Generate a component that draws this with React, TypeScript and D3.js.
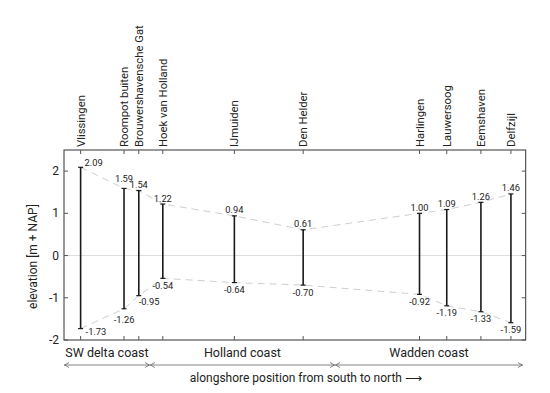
import * as React from 'react';
import * as d3 from 'd3';

// stations, south to north
const stations = ['Vlissingen', 'Roompot buiten', 'Brouwershavensche Gat', 'Hoek van Holland', 'IJmuiden',
	'Den Helder', 'Harlingen', 'Lauwersoog', 'Eemshaven', 'Delfzijl'];
// alongshore position (relative, 0-100)
const position = [3.6, 13.0, 16.2, 21.4, 36.9, 51.8, 77.0, 82.9, 90.3, 96.8];
const highWater = [2.09, 1.59, 1.54, 1.22, 0.94, 0.61, 1.00, 1.09, 1.26, 1.46];
const lowWater = [-1.73, -1.26, -0.95, -0.54, -0.64, -0.70, -0.92, -1.19, -1.33, -1.59];

const coastNames = ['SW delta coast', 'Holland coast', 'Wadden coast'];
const coastStart = [0, 18.6, 58.7];
const coastEnd = [18.6, 58.7, 99.4];

const yTicks = [-2, -1, 0, 1, 2];

const W = 550, H = 393;
const margin = {top: 150, right: 24.3, bottom: 53, left: 64};
const FONT = 'Roboto, "Noto Sans", sans-serif';

const draw = (svgEl: SVGSVGElement) => {
	const svg = d3.select(svgEl);
	svg.html('');

	const x = d3.scaleLinear().domain([0, 100]).range([margin.left, W - margin.right]);
	const y = d3.scaleLinear().domain([-2, 2.5]).range([H - margin.bottom, margin.top]);
	const x0 = x.range()[0], x1 = x.range()[1];
	const y0 = y.range()[0], y1 = y.range()[1];

	const data = stations.map((name, i) => ({name, pos: position[i], hi: highWater[i], lo: lowWater[i]}));

	// zero line
	svg.append('line')
		.attr('x1', x0).attr('x2', x1)
		.attr('y1', y(0)).attr('y2', y(0))
		.attr('stroke', '#dcdcdc').attr('stroke-width', 1);

	// envelopes
	const env = (key: 'hi' | 'lo') => d3.line<any>()
		.x(d => x(d.pos))
		.y(d => y(d[key]));
	['hi', 'lo'].forEach((k: any) => {
		svg.append('path')
			.attr('d', env(k)(data))
			.attr('fill', 'none')
			.attr('stroke', '#cfcfcf')
			.attr('stroke-width', 1)
			.attr('stroke-dasharray', '7,5');
	});

	// bars
	const bar = svg.append('g').selectAll('g').data(data).enter().append('g');
	bar.append('line')
		.attr('x1', d => x(d.pos)).attr('x2', d => x(d.pos))
		.attr('y1', d => y(d.hi)).attr('y2', d => y(d.lo))
		.attr('stroke', '#1a1a1a').attr('stroke-width', 1.6);
	['hi', 'lo'].forEach((k: any) => {
		bar.append('line')
			.attr('x1', d => x(d.pos) - 2.5).attr('x2', d => x(d.pos) + 2.5)
			.attr('y1', d => y(d[k])).attr('y2', d => y(d[k]))
			.attr('stroke', '#1a1a1a').attr('stroke-width', 1.2);
	});

	// value labels
	bar.append('text')
		.attr('x', (d, i) => x(d.pos) + (i === 0 ? 4 : 0))
		.attr('y', (d, i) => y(d.hi) - (i === 0 ? 1.5 : i === 1 ? 6 : 2.5))
		.attr('text-anchor', (d, i) => i === 0 ? 'start' : 'middle')
		.attr('font-size', 9.3).attr('font-family', FONT).attr('fill', '#222')
		.text(d => d.hi.toFixed(2));
	bar.append('text')
		.attr('x', (d, i) => x(d.pos) + (i === 0 ? 5 : 0))
		.attr('y', (d, i) => y(d.lo) + (i === 0 ? 6.5 : i === 1 ? 14 : i === 2 ? 9.5 : 10.5))
		.attr('text-anchor', (d, i) => i === 0 || i === 2 ? 'start' : 'middle')
		.attr('font-size', 9.3).attr('font-family', FONT).attr('fill', '#222')
		.text(d => d.lo.toFixed(2));

	// frame
	svg.append('rect')
		.attr('x', x0).attr('y', y1)
		.attr('width', x1 - x0).attr('height', y0 - y1)
		.attr('fill', 'none').attr('stroke', '#333').attr('stroke-width', 1);

	// inward ticks
	const ticks = svg.append('g').attr('stroke', '#555').attr('stroke-width', 1);
	yTicks.forEach(t => {
		ticks.append('line').attr('x1', x0).attr('x2', x0 + 4).attr('y1', y(t)).attr('y2', y(t));
		ticks.append('line').attr('x1', x1).attr('x2', x1 - 4).attr('y1', y(t)).attr('y2', y(t));
	});
	position.forEach(p => {
		ticks.append('line').attr('x1', x(p)).attr('x2', x(p)).attr('y1', y1).attr('y2', y1 + 4);
		ticks.append('line').attr('x1', x(p)).attr('x2', x(p)).attr('y1', y0).attr('y2', y0 - 4);
	});

	// y tick labels
	svg.append('g').selectAll('text').data(yTicks).enter().append('text')
		.attr('x', x0 - 5).attr('y', d => y(d) + 4)
		.attr('text-anchor', 'end')
		.attr('font-size', 12).attr('font-family', FONT).attr('fill', '#222')
		.text(d => d);

	// station labels
	svg.append('g').selectAll('text').data(data).enter().append('text')
		.attr('transform', d => 'translate(' + (x(d.pos) + 4) + ',' + (y1 - 3) + ') rotate(-90)')
		.attr('font-size', 11.3).attr('font-family', FONT).attr('fill', '#222')
		.text(d => d.name);

	// y title
	svg.append('text')
		.attr('transform', 'translate(' + 37 + ',' + (y(0) + 1) + ') rotate(-90)')
		.attr('text-anchor', 'middle')
		.attr('font-size', 12).attr('font-family', FONT).attr('fill', '#222')
		.text('elevation [m + NAP]');

	// coasts
	const coast = svg.append('g');
	coastNames.forEach((name, i) => {
		const a = x(coastStart[i]), b = x(coastEnd[i]);
		coast.append('text')
			.attr('x', (a + b) / 2).attr('y', y0 + 16.5)
			.attr('text-anchor', 'middle')
			.attr('font-size', 12.5).attr('font-family', FONT).attr('fill', '#222')
			.text(name);
		const ay = y0 + 25;
		coast.append('line').attr('x1', a).attr('x2', b).attr('y1', ay).attr('y2', ay)
			.attr('stroke', '#666').attr('stroke-width', 0.8);
		coast.append('path')
			.attr('d', `M${a + 5},${ay - 2.5}L${a + 0.5},${ay}L${a + 5},${ay + 2.5}M${b - 5},${ay - 2.5}L${b - 0.5},${ay}L${b - 5},${ay + 2.5}`)
			.attr('fill', 'none').attr('stroke', '#666').attr('stroke-width', 0.8);
	});

	svg.append('text')
		.attr('x', (x0 + x1) / 2 + 11).attr('y', y0 + 42)
		.attr('text-anchor', 'middle')
		.attr('font-size', 12).attr('font-family', FONT).attr('fill', '#222')
		.text('alongshore position from south to north  \u27F6');
};

export default function App() {
	const ref = React.useRef<SVGSVGElement>(null);
	React.useEffect(() => {
		if (ref.current) draw(ref.current);
	}, []);
	return (
		<svg ref={ref} width={W} height={H}
			style={{position: 'absolute', left: 0, top: 0, background: '#fff'}} />
	);
}
